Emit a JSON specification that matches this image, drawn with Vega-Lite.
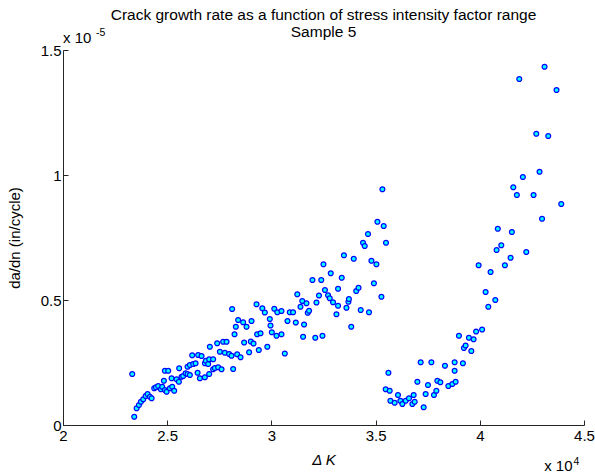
{
  "$schema": "https://vega.github.io/schema/vega-lite/v6.json",
  "width": 521,
  "height": 375,
  "autosize": "none",
  "padding": {"left": 63, "top": 50, "right": 11, "bottom": 50},
  "background": "white",
  "title": {
    "text": ["Crack growth rate as a function of stress intensity factor range", "Sample 5"],
    "font": "Liberation Sans",
    "fontSize": 15.5,
    "fontWeight": "normal",
    "color": "black",
    "anchor": "middle",
    "frame": "group",
    "offset": -12,
    "lineHeight": 16.5
  },
  "config": {
    "view": {"stroke": null},
    "axis": {
      "grid": false,
      "domainColor": "#262626",
      "tickColor": "#262626",
      "labelColor": "black",
      "titleColor": "black",
      "labelFont": "Liberation Sans",
      "titleFont": "Liberation Sans",
      "labelFontSize": 15,
      "titleFontSize": 15,
      "titleFontWeight": "normal",
      "tickSize": -5,
      "domainWidth": 1,
      "tickWidth": 1
    }
  },
  "layer": [
    {
      "data": {"values": [
        {"K":23322,"dadn":2.04e-6},{"K":23418,"dadn":0.33e-6},{"K":23533,"dadn":0.67e-6},{"K":23643,"dadn":0.80e-6},{"K":23739,"dadn":0.93e-6},{"K":23850,"dadn":1.03e-6},{"K":23965,"dadn":1.16e-6},{"K":24060,"dadn":1.24e-6},{"K":24171,"dadn":1.13e-6},{"K":24252,"dadn":1.07e-6},
        {"K":24377,"dadn":1.47e-6},{"K":24458,"dadn":1.51e-6},{"K":24569,"dadn":1.56e-6},{"K":24698,"dadn":1.43e-6},{"K":24760,"dadn":1.53e-6},{"K":24842,"dadn":1.77e-6},{"K":24890,"dadn":1.40e-6},{"K":24890,"dadn":2.17e-6},{"K":24971,"dadn":1.33e-6},{"K":25048,"dadn":2.17e-6},
        {"K":25130,"dadn":1.47e-6},{"K":25211,"dadn":1.87e-6},{"K":25240,"dadn":1.53e-6},{"K":25336,"dadn":1.37e-6},{"K":25451,"dadn":1.83e-6},{"K":25561,"dadn":1.73e-6},{"K":25575,"dadn":2.27e-6},{"K":25690,"dadn":1.93e-6},{"K":25767,"dadn":1.96e-6},{"K":25882,"dadn":2.07e-6},
        {"K":25978,"dadn":2.04e-6},{"K":25978,"dadn":2.33e-6},{"K":26088,"dadn":2.00e-6},{"K":26088,"dadn":2.40e-6},{"K":26199,"dadn":2.79e-6},{"K":26247,"dadn":2.44e-6},{"K":26362,"dadn":2.47e-6},{"K":26458,"dadn":2.09e-6},{"K":26486,"dadn":2.80e-6},{"K":26568,"dadn":1.87e-6},
        {"K":26649,"dadn":2.76e-6},{"K":26807,"dadn":1.91e-6},{"K":26807,"dadn":2.47e-6},{"K":26855,"dadn":2.57e-6},{"K":26966,"dadn":2.44e-6},{"K":27014,"dadn":2.63e-6},{"K":27014,"dadn":2.04e-6},{"K":27047,"dadn":3.13e-6},{"K":27205,"dadn":2.63e-6},{"K":27205,"dadn":2.23e-6},
        {"K":27287,"dadn":2.28e-6},{"K":27445,"dadn":2.31e-6},{"K":27608,"dadn":2.23e-6},{"K":27397,"dadn":3.27e-6},{"K":27527,"dadn":2.93e-6},{"K":27685,"dadn":3.33e-6},{"K":27766,"dadn":2.89e-6},{"K":27848,"dadn":3.33e-6},{"K":27972,"dadn":2.84e-6},{"K":28087,"dadn":2.77e-6},
        {"K":28116,"dadn":4.64e-6},{"K":28164,"dadn":2.24e-6},{"K":28231,"dadn":3.63e-6},{"K":28294,"dadn":3.93e-6},{"K":28356,"dadn":2.83e-6},{"K":28404,"dadn":4.20e-6},{"K":28519,"dadn":2.71e-6},{"K":28644,"dadn":4.11e-6},{"K":28692,"dadn":3.30e-6},{"K":28807,"dadn":3.93e-6},
        {"K":28931,"dadn":2.91e-6},{"K":29013,"dadn":3.34e-6},{"K":29046,"dadn":4.16e-6},{"K":29142,"dadn":3.26e-6},{"K":29286,"dadn":4.83e-6},{"K":29315,"dadn":3.63e-6},{"K":29396,"dadn":3.00e-6},{"K":29478,"dadn":3.67e-6},{"K":29564,"dadn":4.67e-6},{"K":29684,"dadn":4.50e-6},
        {"K":29804,"dadn":3.13e-6},{"K":29924,"dadn":4.24e-6},{"K":29957,"dadn":3.98e-6},{"K":30019,"dadn":3.71e-6},{"K":30139,"dadn":4.65e-6},{"K":30245,"dadn":3.57e-6},{"K":30283,"dadn":4.51e-6},{"K":30484,"dadn":4.56e-6},{"K":30484,"dadn":3.63e-6},{"K":30643,"dadn":2.86e-6},
        {"K":30772,"dadn":4.16e-6},{"K":30882,"dadn":4.51e-6},{"K":31041,"dadn":4.51e-6},{"K":31170,"dadn":4.10e-6},{"K":31242,"dadn":5.23e-6},{"K":31395,"dadn":4.73e-6},{"K":31481,"dadn":4.96e-6},{"K":31520,"dadn":3.53e-6},{"K":31568,"dadn":4.02e-6},{"K":31683,"dadn":4.87e-6},
        {"K":31745,"dadn":4.49e-6},{"K":31808,"dadn":4.57e-6},{"K":31970,"dadn":5.80e-6},{"K":32105,"dadn":3.49e-6},{"K":32162,"dadn":4.90e-6},{"K":32282,"dadn":5.18e-6},{"K":32392,"dadn":5.80e-6},{"K":32450,"dadn":3.57e-6},{"K":32498,"dadn":6.43e-6},{"K":32570,"dadn":5.40e-6},
        {"K":32719,"dadn":5.19e-6},{"K":32800,"dadn":5.07e-6},{"K":32848,"dadn":6.07e-6},{"K":32958,"dadn":4.91e-6},{"K":33121,"dadn":4.43e-6},{"K":33198,"dadn":5.45e-6},{"K":33198,"dadn":4.77e-6},{"K":33375,"dadn":5.89e-6},{"K":33481,"dadn":6.79e-6},{"K":33601,"dadn":4.69e-6},
        {"K":33696,"dadn":4.93e-6},{"K":33720,"dadn":5.04e-6},{"K":33831,"dadn":3.93e-6},{"K":33951,"dadn":6.65e-6},{"K":34070,"dadn":5.36e-6},{"K":34181,"dadn":5.49e-6},{"K":34286,"dadn":4.60e-6},{"K":34396,"dadn":7.29e-6},{"K":34478,"dadn":7.16e-6},{"K":34636,"dadn":7.64e-6},
        {"K":34684,"dadn":4.51e-6},{"K":34799,"dadn":6.57e-6},{"K":34919,"dadn":5.67e-6},{"K":35039,"dadn":6.43e-6},{"K":35087,"dadn":8.13e-6},{"K":35279,"dadn":5.13e-6},{"K":35326,"dadn":9.43e-6},{"K":35389,"dadn":7.96e-6},{"K":35499,"dadn":7.29e-6},
        {"K":35485,"dadn":1.43e-6},{"K":35614,"dadn":2.09e-6},{"K":35676,"dadn":1.37e-6},{"K":35710,"dadn":0.97e-6},{"K":35916,"dadn":0.89e-6},{"K":36074,"dadn":1.20e-6},{"K":36189,"dadn":0.97e-6},{"K":36285,"dadn":0.84e-6},{"K":36443,"dadn":0.97e-6},{"K":36602,"dadn":1.07e-6},
        {"K":36765,"dadn":0.84e-6},{"K":36827,"dadn":1.20e-6},{"K":36875,"dadn":0.93e-6},{"K":37004,"dadn":1.73e-6},{"K":37163,"dadn":2.51e-6},{"K":37306,"dadn":0.71e-6},{"K":37402,"dadn":1.24e-6},{"K":37512,"dadn":1.60e-6},{"K":37676,"dadn":2.51e-6},{"K":37800,"dadn":1.20e-6},
        {"K":37915,"dadn":1.37e-6},{"K":37963,"dadn":1.77e-6},{"K":38107,"dadn":1.71e-6},{"K":38328,"dadn":2.37e-6},{"K":38490,"dadn":1.56e-6},{"K":38682,"dadn":1.64e-6},{"K":38792,"dadn":2.51e-6},{"K":38792,"dadn":2.17e-6},{"K":38840,"dadn":1.73e-6},{"K":38999,"dadn":3.57e-6},
        {"K":39190,"dadn":2.47e-6},{"K":39238,"dadn":3.08e-6},{"K":39320,"dadn":3.18e-6},{"K":39478,"dadn":3.49e-6},{"K":39593,"dadn":2.96e-6},{"K":39703,"dadn":3.43e-6},{"K":39823,"dadn":3.74e-6},{"K":39943,"dadn":6.39e-6},{"K":40111,"dadn":3.82e-6},{"K":40279,"dadn":5.32e-6},
        {"K":40408,"dadn":4.73e-6},{"K":40518,"dadn":6.12e-6},{"K":40744,"dadn":5.00e-6},{"K":40806,"dadn":7.00e-6},{"K":40864,"dadn":7.85e-6},{"K":41031,"dadn":7.19e-6},{"K":41204,"dadn":6.39e-6},{"K":41477,"dadn":6.69e-6},{"K":41539,"dadn":7.72e-6},{"K":41607,"dadn":9.51e-6},
        {"K":41779,"dadn":9.20e-6},{"K":41894,"dadn":13.84e-6},{"K":42067,"dadn":9.92e-6},{"K":42230,"dadn":6.92e-6},{"K":42580,"dadn":9.20e-6},{"K":42709,"dadn":11.65e-6},{"K":42867,"dadn":10.13e-6},{"K":42987,"dadn":8.25e-6},{"K":43107,"dadn":14.33e-6},{"K":43284,"dadn":11.56e-6},
        {"K":43682,"dadn":13.40e-6},{"K":43908,"dadn":8.84e-6}
      ]},
      "mark": {"type": "circle", "fill": "#00ffff", "stroke": "#0000ff", "strokeWidth": 1.2, "size": 24, "opacity": 1},
      "encoding": {
        "x": {
          "field": "K", "type": "quantitative",
          "scale": {"domain": [20000, 45000], "nice": false, "zero": false},
          "axis": {
            "values": [20000, 25000, 30000, 35000, 40000, 45000],
            "labelExpr": "format(datum.value / 10000, '~g')",
            "title": "Δ K",
            "titleFontStyle": "italic",
            "labelPadding": 8,
            "titlePadding": 9,
            "labelFlush": false
          }
        },
        "y": {
          "field": "dadn", "type": "quantitative",
          "scale": {"domain": [0, 0.000015], "nice": false, "zero": true},
          "axis": {
            "values": [0, 0.000005, 0.00001, 0.000015],
            "labelExpr": "format(datum.value * 100000, '~g')",
            "title": "da/dn (in/cycle)",
            "labelPadding": 7,
            "titlePadding": 18,
            "labelFlush": false
          }
        }
      }
    },
    {
      "data": {"values": [{"label": "x 10"}]},
      "mark": {"type": "text", "align": "left", "baseline": "alphabetic", "font": "Liberation Sans", "fontSize": 15, "color": "black"},
      "encoding": {
        "x": {"datum": 20000},
        "y": {"datum": 0.0000153},
        "text": {"field": "label"}
      }
    },
    {
      "data": {"values": [{"label": "-5"}]},
      "mark": {"type": "text", "align": "left", "baseline": "alphabetic", "font": "Liberation Sans", "fontSize": 10.5, "color": "black"},
      "encoding": {
        "x": {"datum": 21580},
        "y": {"datum": 0.00001556},
        "text": {"field": "label"}
      }
    },
    {
      "data": {"values": [{"label": "x 10"}]},
      "mark": {"type": "text", "align": "right", "baseline": "alphabetic", "font": "Liberation Sans", "fontSize": 15, "color": "black"},
      "encoding": {
        "x": {"datum": 44449},
        "y": {"datum": -0.00000184},
        "text": {"field": "label"}
      }
    },
    {
      "data": {"values": [{"label": "4"}]},
      "mark": {"type": "text", "align": "left", "baseline": "alphabetic", "font": "Liberation Sans", "fontSize": 10.5, "color": "black"},
      "encoding": {
        "x": {"datum": 44497},
        "y": {"datum": -0.0000016},
        "text": {"field": "label"}
      }
    }
  ]
}
